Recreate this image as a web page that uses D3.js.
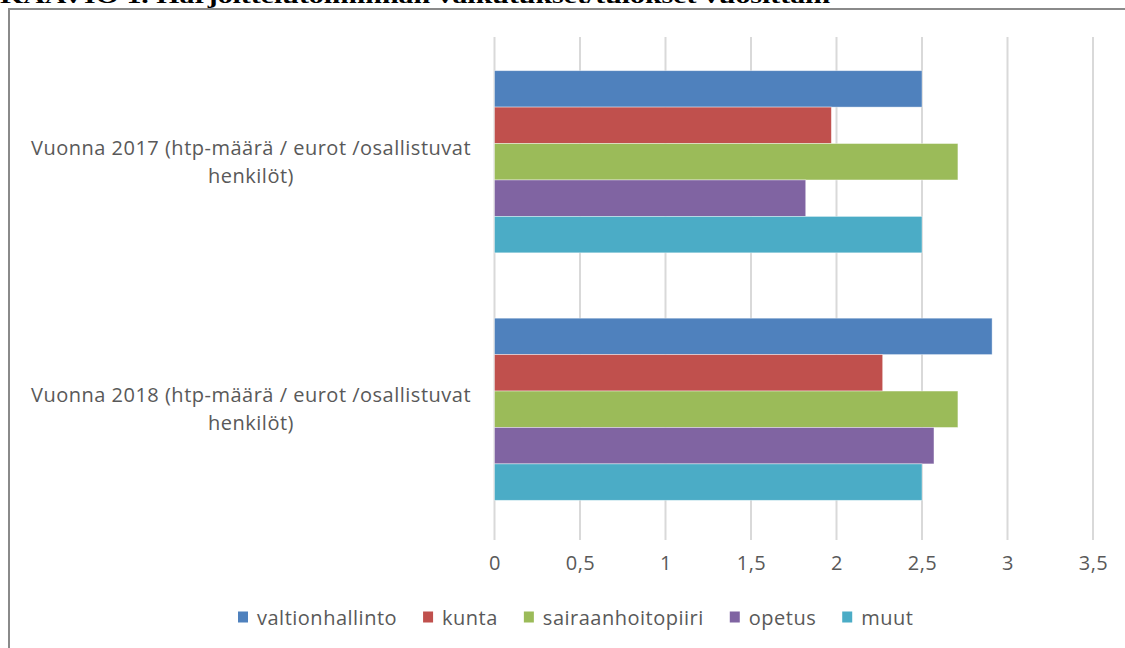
<!DOCTYPE html>
<html>
<head>
<meta charset="utf-8">
<script src="https://cdn.jsdelivr.net/npm/d3@7"></script>
<style>
  body { margin: 0; background: #fff; }
  svg { display: block; }
</style>
</head>
<body>
<div id="chart"></div>
<script>
var width = 1125;
var height = 648;

// data
var categories = ["Vuonna 2017 (htp-määrä / eurot /osallistuvat henkilöt)",
                  "Vuonna 2018 (htp-määrä / eurot /osallistuvat henkilöt)"];
var categoryLines = [["Vuonna 2017 (htp-määrä / eurot /osallistuvat", "henkilöt)"],
                     ["Vuonna 2018 (htp-määrä / eurot /osallistuvat", "henkilöt)"]];
var seriesNames = ["valtionhallinto", "kunta", "sairaanhoitopiiri", "opetus", "muut"];
var seriesColors = ["#4F81BD", "#C0504D", "#9BBB59", "#8064A2", "#4BACC6"];
var values2017 = [2.5, 1.97, 2.71, 1.82, 2.5];
var values2018 = [2.91, 2.27, 2.71, 2.57, 2.5];
var tickValues = [0, 0.5, 1, 1.5, 2, 2.5, 3, 3.5];
var titleText = "KAAVIO 1. Harjoittelutoiminnan vaikutukset/tulokset vuosittain";

var valuesByCat = [values2017, values2018];

var svg = d3.select("#chart")
    .append("svg")
    .attr("width", width)
    .attr("height", height);

// title, cut off by the top edge as in the source image
svg.append("text")
    .attr("x", 0)
    .attr("y", 3)
    .attr("textLength", 830)
    .attr("lengthAdjust", "spacingAndGlyphs")
    .style("font-family", "'Liberation Serif', serif")
    .style("font-weight", "bold")
    .style("font-size", "20px")
    .attr("fill", "#000")
    .text(titleText);

// chart frame
svg.append("rect")
    .attr("x", 9)
    .attr("y", 9)
    .attr("width", 1130)
    .attr("height", 660)
    .attr("fill", "none")
    .attr("stroke", "#8a8a8a")
    .attr("stroke-width", 2);

var x = d3.scaleLinear()
    .domain([0, 3.5])
    .range([494.5, 1093]);

var y = d3.scaleBand()
    .domain(categories)
    .range([38, 533])
    .paddingInner(0.264)
    .paddingOuter(0.132);

var ySub = d3.scaleBand()
    .domain(seriesNames)
    .range([0, y.bandwidth()]);

// gridlines
svg.append("g")
    .selectAll("line")
    .data(tickValues)
    .enter()
    .append("line")
    .attr("x1", function(d) { return x(d); })
    .attr("x2", function(d) { return x(d); })
    .attr("y1", 37)
    .attr("y2", 540)
    .attr("stroke", "#d9d9d9")
    .attr("stroke-width", 2);

// bars
var groups = svg.append("g")
    .selectAll("g")
    .data(categories)
    .enter()
    .append("g")
    .attr("transform", function(d) { return "translate(0," + y(d) + ")"; });

groups.selectAll("rect")
    .data(function(d, i) {
        return seriesNames.map(function(s, j) { return { s: s, v: valuesByCat[i][j], c: seriesColors[j] }; });
    })
    .enter()
    .append("rect")
    .attr("x", x(0))
    .attr("y", function(d) { return ySub(d.s); })
    .attr("width", function(d) { return x(d.v) - x(0); })
    .attr("height", ySub.bandwidth())
    .attr("fill", function(d) { return d.c; })
    .attr("stroke", "rgba(255,255,255,0.5)")
    .attr("stroke-width", 0.8);

// x axis labels
var xAxis = svg.append("g")
    .attr("transform", "translate(0,540)")
    .call(d3.axisBottom(x)
        .tickValues(tickValues)
        .tickSize(0)
        .tickPadding(16)
        .tickFormat(function(d) { return String(d).replace(".", ","); }));
xAxis.select(".domain").remove();
xAxis.selectAll("text")
    .style("font-family", "'Open Sans', sans-serif")
    .style("font-size", "20px")
    .style("letter-spacing", "0.5px")
    .attr("fill", "#595959");

// category labels
categories.forEach(function(c, i) {
    var cy = y(c) + y.bandwidth() / 2;
    var t = svg.append("text")
        .attr("text-anchor", "middle")
        .style("font-family", "'Open Sans', sans-serif")
        .style("font-size", "20px")
        .style("letter-spacing", "0.5px")
        .attr("fill", "#595959");
    categoryLines[i].forEach(function(line, k) {
        t.append("tspan")
            .attr("x", 251)
            .attr("y", cy - 7 + k * 28)
            .text(line);
    });
});

// legend
var legend = svg.append("g").attr("transform", "translate(238,617)");
var lx = 0;
seriesNames.forEach(function(s, i) {
    legend.append("rect")
        .attr("x", lx)
        .attr("y", -5.5)
        .attr("width", 10)
        .attr("height", 11)
        .attr("fill", seriesColors[i]);
    var t = legend.append("text")
        .attr("x", lx + 19)
        .attr("y", 7.5)
        .style("font-family", "'Open Sans', sans-serif")
        .style("font-size", "20px")
        .style("letter-spacing", "0.5px")
        .attr("fill", "#595959")
        .text(s);
    lx += 19 + t.node().getComputedTextLength() + 26;
});
</script>
</body>
</html>
